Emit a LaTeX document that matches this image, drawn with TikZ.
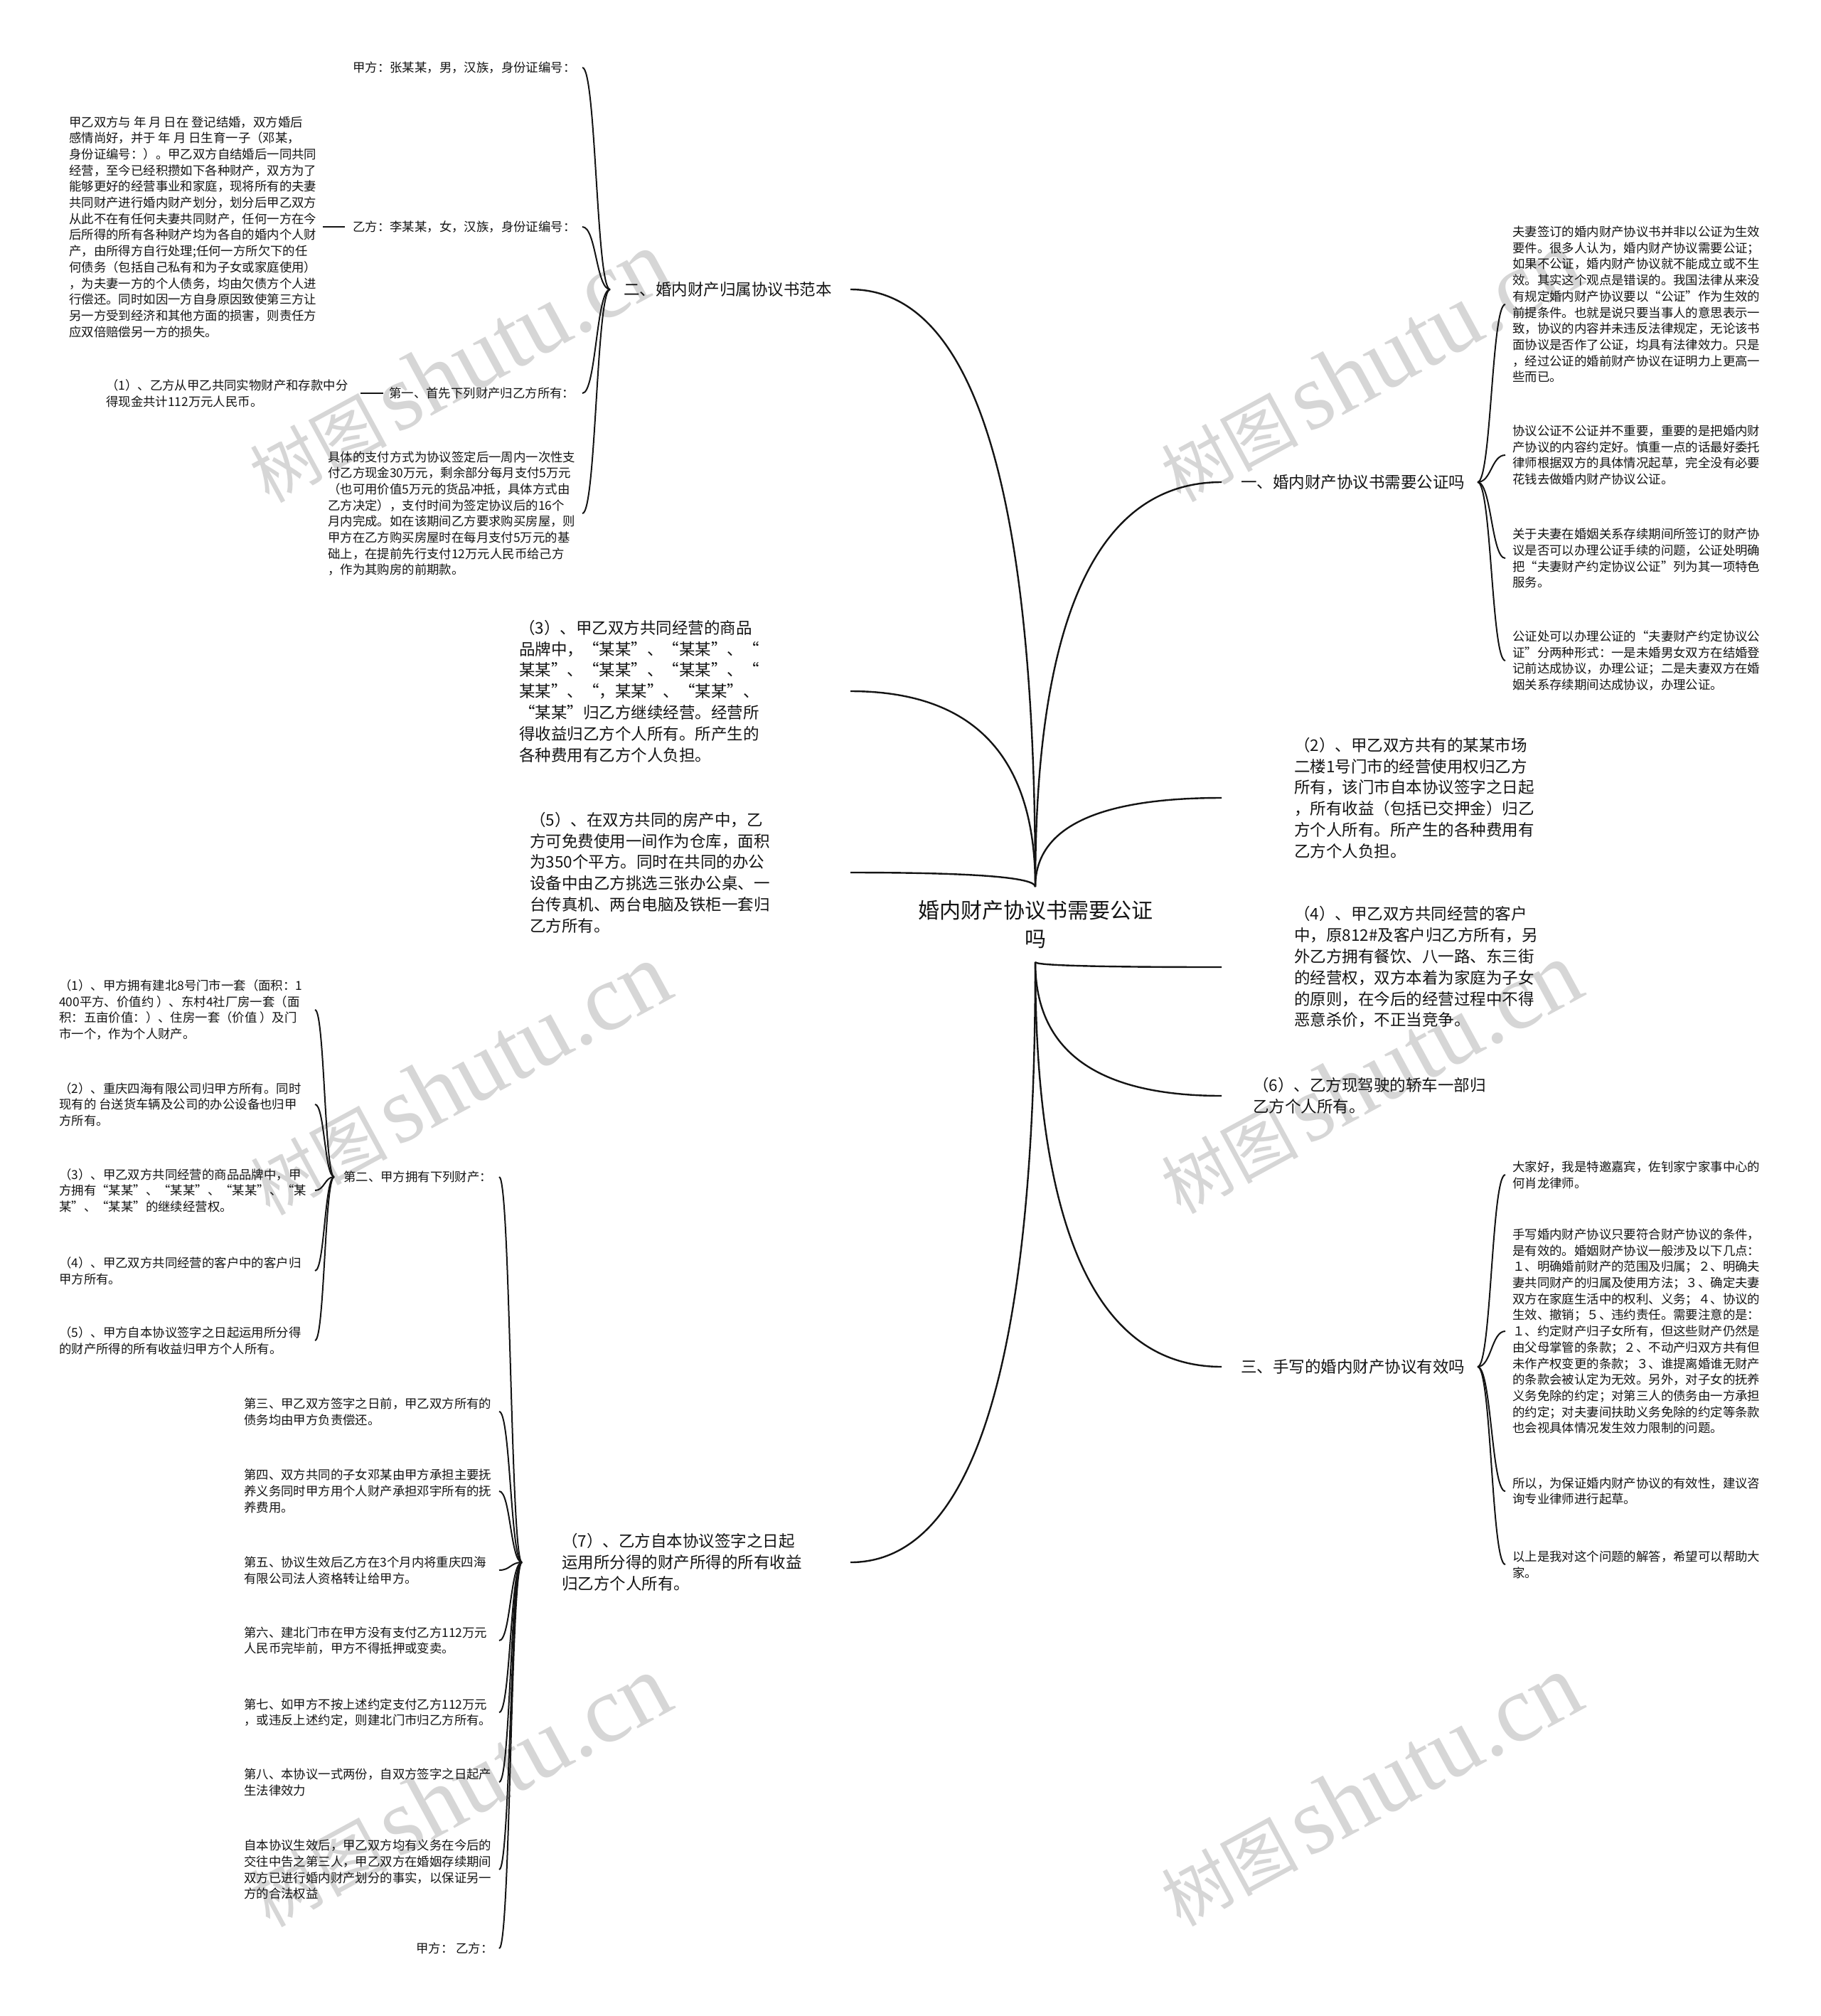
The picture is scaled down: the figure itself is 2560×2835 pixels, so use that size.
\documentclass[tikz,border=0pt]{standalone}
\usepackage{fontspec}
\setmainfont{Noto Sans CJK SC}
\newfontfamily\wmlat{Liberation Serif}
\usetikzlibrary{calc}
\definecolor{wm}{RGB}{214,214,214}
\definecolor{ink}{RGB}{20,20,20}

\tikzset{
  conn/.style={line width=2pt, draw=ink},
  rootconn/.style={line width=2.4pt, draw=ink},
  big/.style={anchor=west, inner sep=0pt, align=left, text=ink, font=\fontsize{22.5}{29.8}\selectfont},
  small/.style={anchor=west, inner sep=0pt, align=left, text=ink, font=\fontsize{17.4}{22.7}\selectfont},
  wmark/.style={rotate=28.5, text=wm, inner sep=0pt},
}

\newcommand\mmbrace[2]{%
  \coordinate (bA) at (#1);
  \coordinate (bB) at (#2);
  \coordinate (bM) at ($(bA)!0.5!(bB)$);
  \draw[conn] (bA) .. controls (bM |- bA) and (bM |- bB) .. (bB);}
\newcommand\mmroot[2]{%
  \coordinate (rA) at (#1);
  \coordinate (rB) at (#2);
  \coordinate (rQ) at (rA |- rB);
  \draw[rootconn] (rA) .. controls ($(rA)!0.667!(rQ)$) and ($(rB)!0.667!(rQ)$) .. (rB);}
\newcommand\wmtext{{\fontsize{96}{96}\selectfont 树图}\hspace{13pt}{\wmlat\fontsize{133}{133}\selectfont shutu.cn}}

\begin{document}
\begin{tikzpicture}[x=1pt,y=-1pt]
\useasboundingbox[fill=white] (0,0) rectangle (2560,2835);

% watermarks
\node[wmark] (w1) at (645,516) {\wmtext};
\node[wmark] (w2) at (646,1518) {\wmtext};
\node[wmark] (w3) at (646,2519) {\wmtext};
\node[wmark] (w4) at (1927,515) {\wmtext};
\node[wmark] (w5) at (1927,1516) {\wmtext};
\node[wmark] (w6) at (1927,2518) {\wmtext};

% root
\node[align=center, text=ink, font=\fontsize{30}{40}\selectfont, inner xsep=20pt, inner ysep=19pt, fill=white] (root) at (1456,1300) {婚内财产协议书需要公证\\吗};

% main branches
\node[big] (B2) at (877,407) {二、婚内财产归属协议书范本};
\node[big] (B1) at (1745,678) {一、婚内财产协议书需要公证吗};
\node[big] (B3) at (1745,1922) {三、手写的婚内财产协议有效吗};

\node[big] (N3) at (730,972) {（3）、甲乙双方共同经营的商品\\品牌中，“某某”、“某某”、“\\某某”、“某某”、“某某”、“\\某某”、“，某某”、“某某”、\\“某某”归乙方继续经营。经营所\\得收益归乙方个人所有。所产生的\\各种费用有乙方个人负担。};
\node[big] (N5) at (745,1227) {（5）、在双方共同的房产中，乙\\方可免费使用一间作为仓库，面积\\为350个平方。同时在共同的办公\\设备中由乙方挑选三张办公桌、一\\台传真机、两台电脑及铁柜一套归\\乙方所有。};
\node[big] (N7) at (790,2197) {（7）、乙方自本协议签字之日起\\运用所分得的财产所得的所有收益\\归乙方个人所有。};
\node[big] (N2) at (1820,1122) {（2）、甲乙双方共有的某某市场\\二楼1号门市的经营使用权归乙方\\所有，该门市自本协议签字之日起\\，所有收益（包括已交押金）归乙\\方个人所有。所产生的各种费用有\\乙方个人负担。};
\node[big] (N4) at (1820,1360) {（4）、甲乙双方共同经营的客户\\中，原812\#及客户归乙方所有，另\\外乙方拥有餐饮、八一路、东三街\\的经营权，双方本着为家庭为子女\\的原则，在今后的经营过程中不得\\恶意杀价，不正当竞争。};
\node[big] (N6) at (1762,1541) {（6）、乙方现驾驶的轿车一部归\\乙方个人所有。};

% root connectors
\mmroot{root.north}{[xshift=319pt]B2.west}
\mmroot{root.north}{[xshift=466pt]N3.west}
\mmroot{root.north}{[xshift=451pt]N5.west}
\mmroot{root.south}{[xshift=406pt]N7.west}
\mmroot{root.north}{[xshift=-27pt]B1.west}
\mmroot{root.north}{[xshift=-102pt]N2.west}
\mmroot{root.south}{[xshift=-102pt]N4.west}
\mmroot{root.south}{[xshift=-44pt]N6.west}
\mmroot{root.south}{[xshift=-27pt]B3.west}

% branch 二 children
\node[small] (Cjia) at (496,95) {甲方：张某某，男，汉族，身份证编号：};
\node[small] (Cyi) at (496,319) {乙方：李某某，女，汉族，身份证编号：};
\node[small] (Cdi1) at (547,553) {第一、首先下列财产归乙方所有：};
\node[small] (Ppay) at (461,722) {具体的支付方式为协议签定后一周内一次性支\\付乙方现金30万元，剩余部分每月支付5万元\\（也可用价值5万元的货品冲抵，具体方式由\\乙方决定），支付时间为签定协议后的16个\\月内完成。如在该期间乙方要求购买房屋，则\\甲方在乙方购买房屋时在每月支付5万元的基\\础上，在提前先行支付12万元人民币给己方\\，作为其购房的前期款。};
\node[small] (Pintro) at (97,319) {甲乙双方与 年 月 日在 登记结婚，双方婚后\\感情尚好，并于 年 月 日生育一子（邓某，\\身份证编号：）。甲乙双方自结婚后一同共同\\经营，至今已经积攒如下各种财产，双方为了\\能够更好的经营事业和家庭，现将所有的夫妻\\共同财产进行婚内财产划分，划分后甲乙双方\\从此不在有任何夫妻共同财产，任何一方在今\\后所得的所有各种财产均为各自的婚内个人财\\产，由所得方自行处理;任何一方所欠下的任\\何债务（包括自己私有和为子女或家庭使用）\\，为夫妻一方的个人债务，均由欠债方个人进\\行偿还。同时如因一方自身原因致使第三方让\\另一方受到经济和其他方面的损害，则责任方\\应双倍赔偿另一方的损失。};
\node[small] (P1) at (149,553) {（1）、乙方从甲乙共同实物财产和存款中分\\得现金共计112万元人民币。};

\mmbrace{[xshift=-19pt]B2.west}{[xshift=323pt]Cjia.west}
\mmbrace{[xshift=-19pt]B2.west}{[xshift=323pt]Cyi.west}
\mmbrace{[xshift=-19pt]B2.west}{[xshift=272pt]Cdi1.west}
\mmbrace{[xshift=-19pt]B2.west}{[xshift=358pt]Ppay.west}
\mmbrace{[xshift=-11pt]Cyi.west}{[xshift=357pt]Pintro.west}
\mmbrace{[xshift=-8pt]Cdi1.west}{[xshift=358pt]P1.west}

% (7) children
\node[small] (Cdi2) at (483,1655) {第二、甲方拥有下列财产：};
\node[small] (C3) at (343,1985) {第三、甲乙双方签字之日前，甲乙双方所有的\\债务均由甲方负责偿还。};
\node[small] (C4) at (343,2097) {第四、双方共同的子女邓某由甲方承担主要抚\\养义务同时甲方用个人财产承担邓宇所有的抚\\养费用。};
\node[small] (C5) at (343,2208) {第五、协议生效后乙方在3个月内将重庆四海\\有限公司法人资格转让给甲方。};
\node[small] (C6) at (343,2307) {第六、建北门市在甲方没有支付乙方112万元\\人民币完毕前，甲方不得抵押或变卖。};
\node[small] (C7) at (343,2408) {第七、如甲方不按上述约定支付乙方112万元\\，或违反上述约定，则建北门市归乙方所有。};
\node[small] (C8) at (343,2506) {第八、本协议一式两份，自双方签字之日起产\\生法律效力};
\node[small] (C9) at (343,2629) {自本协议生效后，甲乙双方均有义务在今后的\\交往中告之第三人，甲乙双方在婚姻存续期间\\双方已进行婚内财产划分的事实，以保证另一\\方的合法权益};
\node[small] (Csig) at (585,2740) {甲方： 乙方：};

\mmbrace{[xshift=-56pt]N7.west}{[xshift=219pt]Cdi2.west}
\mmbrace{[xshift=-56pt]N7.west}{[xshift=359pt]C3.west}
\mmbrace{[xshift=-56pt]N7.west}{[xshift=359pt]C4.west}
\mmbrace{[xshift=-56pt]N7.west}{[xshift=359pt]C5.west}
\mmbrace{[xshift=-56pt]N7.west}{[xshift=359pt]C6.west}
\mmbrace{[xshift=-56pt]N7.west}{[xshift=359pt]C7.west}
\mmbrace{[xshift=-56pt]N7.west}{[xshift=359pt]C8.west}
\mmbrace{[xshift=-56pt]N7.west}{[xshift=359pt]C9.west}
\mmbrace{[xshift=-56pt]N7.west}{[xshift=117pt]Csig.west}

% 第二 children
\node[small] (D1) at (83,1420) {（1）、甲方拥有建北8号门市一套（面积：1\\400平方、价值约 ）、东村4社厂房一套（面\\积：五亩价值：）、住房一套（价值 ）及门\\市一个，作为个人财产。};
\node[small] (D2) at (83,1553) {（2）、重庆四海有限公司归甲方所有。同时\\现有的 台送货车辆及公司的办公设备也归甲\\方所有。};
\node[small] (D3) at (83,1674) {（3）、甲乙双方共同经营的商品品牌中，甲\\方拥有“某某”、“某某”、“某某”、“某\\某”、“某某”的继续经营权。};
\node[small] (D4) at (83,1787) {（4）、甲乙双方共同经营的客户中的客户归\\甲方所有。};
\node[small] (D5) at (83,1885) {（5）、甲方自本协议签字之日起运用所分得\\的财产所得的所有收益归甲方个人所有。};

\mmbrace{[xshift=-13pt]Cdi2.west}{[xshift=360pt]D1.west}
\mmbrace{[xshift=-13pt]Cdi2.west}{[xshift=360pt]D2.west}
\mmbrace{[xshift=-13pt]Cdi2.west}{[xshift=360pt]D3.west}
\mmbrace{[xshift=-13pt]Cdi2.west}{[xshift=360pt]D4.west}
\mmbrace{[xshift=-13pt]Cdi2.west}{[xshift=360pt]D5.west}

% branch 一 children
\node[small] (R1a) at (2127,428) {夫妻签订的婚内财产协议书并非以公证为生效\\要件。很多人认为，婚内财产协议需要公证；\\如果不公证，婚内财产协议就不能成立或不生\\效。其实这个观点是错误的。我国法律从来没\\有规定婚内财产协议要以“公证”作为生效的\\前提条件。也就是说只要当事人的意思表示一\\致，协议的内容并未违反法律规定，无论该书\\面协议是否作了公证，均具有法律效力。只是\\，经过公证的婚前财产协议在证明力上更高一\\些而已。};
\node[small] (R1b) at (2127,640) {协议公证不公证并不重要，重要的是把婚内财\\产协议的内容约定好。慎重一点的话最好委托\\律师根据双方的具体情况起草，完全没有必要\\花钱去做婚内财产协议公证。};
\node[small] (R1c) at (2127,785) {关于夫妻在婚姻关系存续期间所签订的财产协\\议是否可以办理公证手续的问题，公证处明确\\把“夫妻财产约定协议公证”列为其一项特色\\服务。};
\node[small] (R1d) at (2127,929) {公证处可以办理公证的“夫妻财产约定协议公\\证”分两种形式：一是未婚男女双方在结婚登\\记前达成协议，办理公证；二是夫妻双方在婚\\姻关系存续期间达成协议，办理公证。};

\mmbrace{[xshift=333pt]B1.west}{[xshift=-10pt]R1a.west}
\mmbrace{[xshift=333pt]B1.west}{[xshift=-10pt]R1b.west}
\mmbrace{[xshift=333pt]B1.west}{[xshift=-10pt]R1c.west}
\mmbrace{[xshift=333pt]B1.west}{[xshift=-10pt]R1d.west}

% branch 三 children
\node[small] (R3a) at (2127,1652) {大家好，我是特邀嘉宾，佐钊家宁家事中心的\\何肖龙律师。};
\node[small] (R3b) at (2127,1872) {手写婚内财产协议只要符合财产协议的条件，\\是有效的。婚姻财产协议一般涉及以下几点：\\１、明确婚前财产的范围及归属；２、明确夫\\妻共同财产的归属及使用方法；３、确定夫妻\\双方在家庭生活中的权利、义务；４、协议的\\生效、撤销；５、违约责任。需要注意的是：\\１、约定财产归子女所有，但这些财产仍然是\\由父母掌管的条款；２、不动产归双方共有但\\未作产权变更的条款；３、谁提离婚谁无财产\\的条款会被认定为无效。另外，对子女的抚养\\义务免除的约定；对第三人的债务由一方承担\\的约定；对夫妻间扶助义务免除的约定等条款\\也会视具体情况发生效力限制的问题。};
\node[small] (R3c) at (2127,2097) {所以，为保证婚内财产协议的有效性，建议咨\\询专业律师进行起草。};
\node[small] (R3d) at (2127,2200) {以上是我对这个问题的解答，希望可以帮助大\\家。};

\mmbrace{[xshift=333pt]B3.west}{[xshift=-10pt]R3a.west}
\mmbrace{[xshift=333pt]B3.west}{[xshift=-10pt]R3b.west}
\mmbrace{[xshift=333pt]B3.west}{[xshift=-10pt]R3c.west}
\mmbrace{[xshift=333pt]B3.west}{[xshift=-10pt]R3d.west}

\end{tikzpicture}
\end{document}
